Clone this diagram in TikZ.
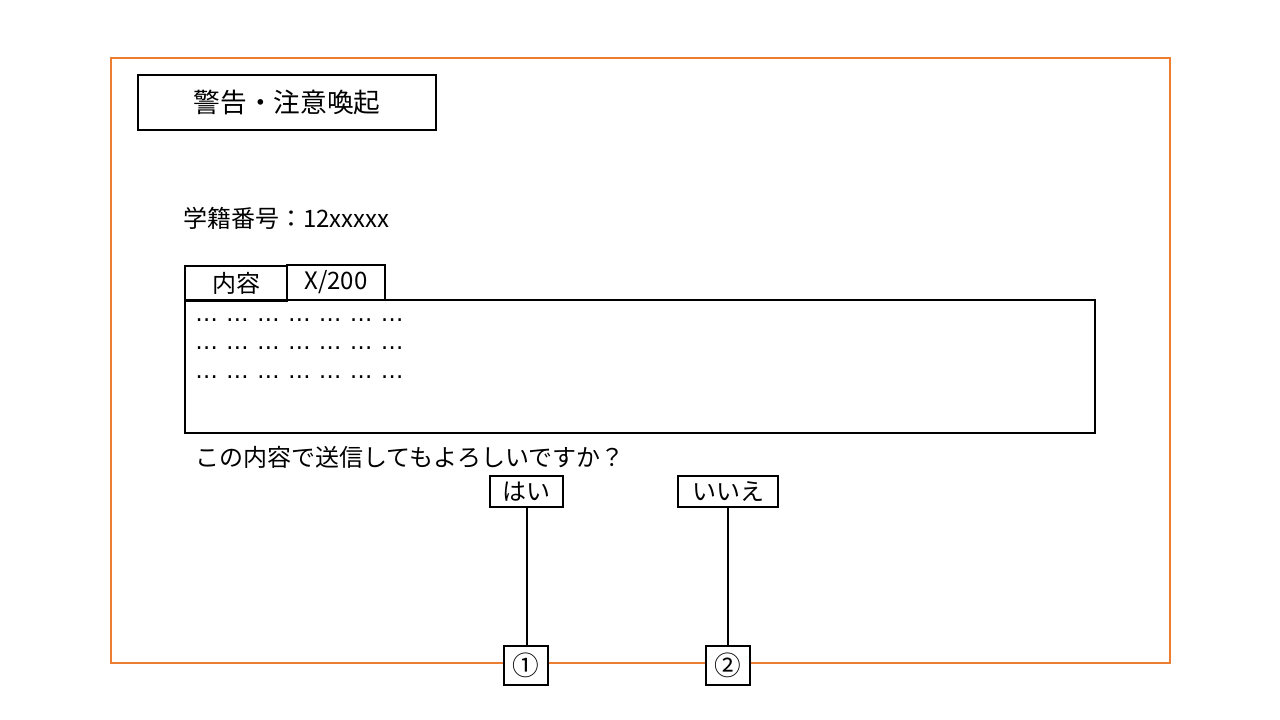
\documentclass[tikz,border=0pt]{standalone}
\usepackage{fontspec}
\setmainfont{Noto Sans CJK JP}
\newfontfamily\elfont{DejaVu Sans}
\newcommand{\elone}{\makebox[23.2pt][l]{…}}
\newcommand{\elrow}{{\elfont\fontsize{17}{20}\selectfont\elone\elone\elone\elone\elone\elone…}}
\begin{document}
\begin{tikzpicture}[x=0.75pt,y=-0.75pt,
  thinbox/.style={draw=black,line width=0.8pt,inner sep=0pt,outer sep=0pt},
  btnbox/.style={draw=black,line width=1.5pt,inner sep=0pt,outer sep=0pt},
  txt/.style={font=\fontsize{18}{21}\selectfont,inner sep=0pt},
  conn/.style={line width=1.5pt}]
\useasboundingbox (0,0) rectangle (1280,720);
\fill[white] (0,0) rectangle (1280,720);
% outer frame
\draw[draw={rgb,255:red,237;green,125;blue,49},line width=0.8pt] (111,58) rectangle (1170,663);
% title
\node[thinbox,minimum width=298*0.75pt,minimum height=55*0.75pt,font=\fontsize{20}{23}\selectfont] (title) at (287,102.5) {警告・注意喚起};
% student id
\node[txt,anchor=west] (sid) at (183,218) {学籍番号：12xxxxx};
% tabs
\node[thinbox,txt,minimum width=102*0.75pt,minimum height=35*0.75pt] (tab1) at (236,283.5) {内容};
\node[thinbox,txt,minimum width=98*0.75pt,minimum height=35*0.75pt] (tab2) at (336,282.5) {X/200};
% content box
\node[thinbox,minimum width=910*0.75pt,minimum height=133*0.75pt] (content) at (640,366.5) {};
\node[inner sep=0pt,anchor=west] (l1) at (195,320) {\elrow};
\node[inner sep=0pt,anchor=west] (l2) at (195,348) {\elrow};
\node[inner sep=0pt,anchor=west] (l3) at (195,377) {\elrow};
% question
\node[txt,anchor=west] (q) at (195,457) {この内容で送信してもよろしいですか？};
% buttons
\node[btnbox,txt,minimum width=73*0.75pt,minimum height=31*0.75pt] (yes) at (526.5,491.5) {はい};
\node[btnbox,txt,minimum width=100*0.75pt,minimum height=31*0.75pt] (no) at (728,491.5) {いいえ};
% numbered boxes
\node[thinbox,fill=white,font=\fontsize{20}{23}\selectfont,minimum width=44*0.75pt,minimum height=39*0.75pt] (n1) at (526,665.5) {①};
\node[thinbox,fill=white,font=\fontsize{20}{23}\selectfont,minimum width=44*0.75pt,minimum height=39*0.75pt] (n2) at (728,665.5) {②};
% connectors
\draw[conn] (yes.south) -- (yes.south |- n1.north);
\draw[conn] (no.south) -- (no.south |- n2.north);
\end{tikzpicture}
\end{document}
